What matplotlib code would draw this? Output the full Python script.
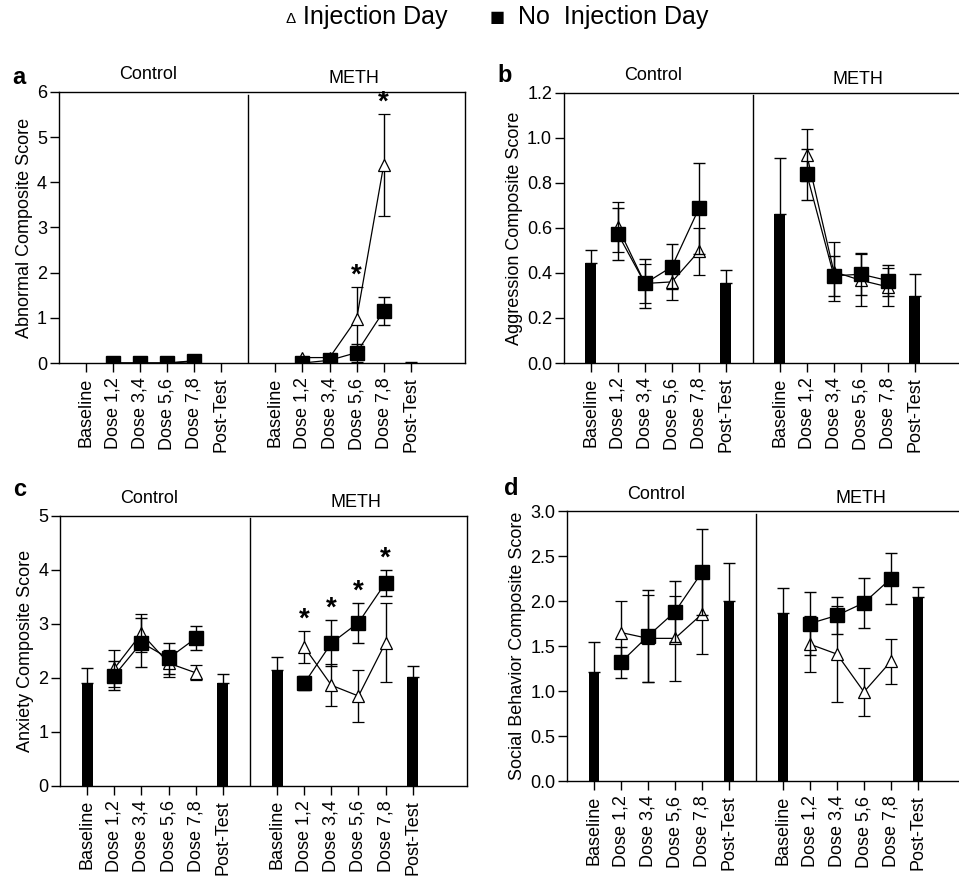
import matplotlib
matplotlib.use('Agg')
import matplotlib.pyplot as plt
import numpy as np

plt.rcParams['font.family'] = ['Liberation Sans', 'DejaVu Sans']

etapas = ['Baseline', 'Dose 1,2', 'Dose 3,4', 'Dose 5,6', 'Dose 7,8', 'Post-Test']
grupos = ['Control', 'METH']

# barras: [control baseline, control post-test, meth baseline, meth post-test]
# pontos: 4 doses control + 4 doses meth
a_barras = [0, 0, 0, 0.01]
a_barras_err = [0, 0, 0, 0.01]
a_tri = [0, 0, 0, 0.03, 0.12, 0.12, 0.98, 4.39]
a_tri_err = [0, 0, 0, 0, 0, 0, 0.7, 1.13]
a_quad = [0, 0, 0, 0.05, 0, 0.06, 0.23, 1.15]
a_quad_err = [0, 0, 0, 0, 0, 0, 0.2, 0.3]
a_sig = [6, 7]

b_barras = [0.444, 0.353, 0.66, 0.298]
b_barras_err = [0.056, 0.062, 0.25, 0.099]
b_tri = [0.604, 0.353, 0.36, 0.496, 0.923, 0.405, 0.367, 0.338]
b_tri_err = [0.11, 0.085, 0.08, 0.105, 0.115, 0.13, 0.115, 0.085]
b_quad = [0.573, 0.353, 0.427, 0.686, 0.837, 0.387, 0.394, 0.366]
b_quad_err = [0.115, 0.107, 0.1, 0.2, 0.115, 0.09, 0.094, 0.07]
b_sig = []

c_barras = [1.895, 1.895, 2.14, 2.02]
c_barras_err = [0.275, 0.165, 0.25, 0.2]
c_tri = [2.17, 2.82, 2.27, 2.09, 2.57, 1.86, 1.66, 2.65]
c_tri_err = [0.34, 0.35, 0.25, 0.14, 0.29, 0.39, 0.49, 0.73]
c_quad = [2.04, 2.65, 2.36, 2.73, 1.895, 2.64, 3.02, 3.76]
c_quad_err = [0.27, 0.45, 0.29, 0.22, 0.13, 0.43, 0.37, 0.24]
c_sig = [4, 5, 6, 7]

d_barras = [1.215, 2.0, 1.87, 2.04]
d_barras_err = [0.325, 0.42, 0.27, 0.12]
d_tri = [1.65, 1.585, 1.585, 1.855, 1.52, 1.41, 0.99, 1.33]
d_tri_err = [0.35, 0.48, 0.47, 0.44, 0.31, 0.53, 0.265, 0.25]
d_quad = [1.32, 1.61, 1.88, 2.32, 1.75, 1.84, 1.98, 2.25]
d_quad_err = [0.17, 0.51, 0.34, 0.48, 0.35, 0.21, 0.28, 0.28]
d_sig = []

x_barras = np.array([0, 5, 7, 12])
x_doses = np.array([1, 2, 3, 4, 8, 9, 10, 11])

FS = 13


def painel(ax, ylabel, ymax, passo, fmt, barras, barras_err, tri, tri_err, quad, quad_err, sig):
    barras = np.array(barras)
    barras_err = np.array(barras_err)
    ax.bar(x_barras, barras, width=0.4, color='black', zorder=2)
    m = barras_err > 0
    ax.errorbar(x_barras[m], barras[m], yerr=[np.zeros(m.sum()), barras_err[m]],
                fmt='none', ecolor='black', elinewidth=1, capsize=4.3, capthick=1, zorder=2)

    tri = np.array(tri)
    quad = np.array(quad)
    for sl in [slice(0, 4), slice(4, 8)]:
        ax.errorbar(x_doses[sl], tri[sl], yerr=np.array(tri_err)[sl], color='black', lw=0.9,
                    marker='^', ms=9, mfc='white', mec='black', mew=0.9,
                    ecolor='black', elinewidth=1, capsize=4.3, capthick=1, zorder=3)
        ax.errorbar(x_doses[sl], quad[sl], yerr=np.array(quad_err)[sl], color='black', lw=0.9,
                    marker='s', ms=9.5, mfc='black', mec='black',
                    ecolor='black', elinewidth=1, capsize=4.3, capthick=1, zorder=4)

    for i in sig:
        topo = max(tri[i] + tri_err[i], quad[i] + quad_err[i])
        ax.text(x_doses[i], topo + ymax * 0.042, '*', ha='center', va='center',
                fontsize=20, fontweight='bold')

    ax.axvline(6, color='black', lw=1, ymax=0.99)
    ax.set_xlim(-1, 14)
    ax.set_ylim(0, ymax)
    yt = np.arange(0, ymax + passo / 2, passo)
    ax.set_yticks(yt)
    ax.set_yticklabels([fmt.format(v) for v in yt])
    ax.set_xticks(list(range(6)) + list(range(7, 13)))
    ax.set_xticklabels(etapas + etapas, rotation=90)
    ax.tick_params(labelsize=FS, length=6.5, width=1)
    ax.tick_params(axis='y', pad=2)
    ax.tick_params(axis='x', pad=4)
    ax.set_ylabel(ylabel, fontsize=FS, labelpad=3)
    for s in ax.spines.values():
        s.set_linewidth(1)

    ax.annotate(grupos[0], xy=(2.3, 1), xycoords=('data', 'axes fraction'),
                xytext=(0, 17), textcoords='offset pixels', ha='center', va='center', fontsize=FS)
    ax.annotate(grupos[1], xy=(9.9, 1), xycoords=('data', 'axes fraction'),
                xytext=(0, 13), textcoords='offset pixels', ha='center', va='center', fontsize=FS)
    return ax


fig = plt.figure(figsize=(9.59, 8.8), dpi=100)

ax_a = fig.add_axes([0.0612, 0.5875, 0.4237, 0.308])
painel(ax_a, 'Abnormal Composite Score', 6, 1, '{:.0f}', a_barras, a_barras_err,
       a_tri, a_tri_err, a_quad, a_quad_err, a_sig)
ax_b = fig.add_axes([0.588, 0.5875, 0.4223, 0.3072])
painel(ax_b, 'Aggression Composite Score', 1.2, 0.2, '{:.1f}', b_barras, b_barras_err,
       b_tri, b_tri_err, b_quad, b_quad_err, b_sig)
ax_c = fig.add_axes([0.0626, 0.1072, 0.4244, 0.3068])
painel(ax_c, 'Anxiety Composite Score', 5, 1, '{:.0f}', c_barras, c_barras_err,
       c_tri, c_tri_err, c_quad, c_quad_err, c_sig)
ax_d = fig.add_axes([0.5912, 0.1125, 0.4223, 0.3068])
painel(ax_d, 'Social Behavior Composite Score', 3, 0.5, '{:.1f}', d_barras, d_barras_err,
       d_tri, d_tri_err, d_quad, d_quad_err, d_sig)

# letras dos paineis
fig.text(19 / 959, 1 - 77 / 880, 'a', fontsize=17, fontweight='bold', ha='center', va='center')
fig.text(505 / 959, 1 - 75 / 880, 'b', fontsize=17, fontweight='bold', ha='center', va='center')
fig.text(20 / 959, 1 - 489 / 880, 'c', fontsize=17, fontweight='bold', ha='center', va='center')
fig.text(511 / 959, 1 - 488 / 880, 'd', fontsize=17, fontweight='bold', ha='center', va='center')

# legenda
fig.text(291 / 959, 1 - 19 / 880, '\u0394', fontsize=11, ha='center', va='center')
fig.text(303 / 959, 1 - 17 / 880, 'Injection Day', fontsize=18, ha='left', va='center')
fig.text(497 / 959, 1 - 18 / 880, '\u25a0', fontsize=11.5, ha='center', va='center',
         family=['DejaVu Sans'])
fig.text(518 / 959, 1 - 17 / 880, 'No  Injection Day', fontsize=18, ha='left', va='center')

fig.savefig('out.png', dpi=100)
